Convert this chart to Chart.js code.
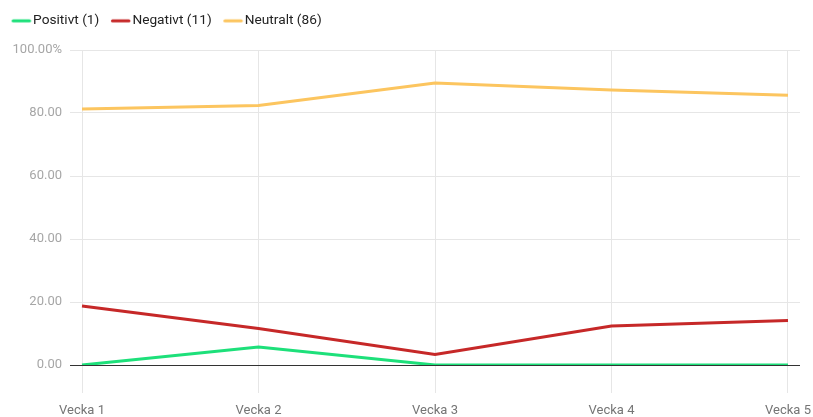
<!DOCTYPE html>
<html><head><meta charset="utf-8">
<script src="https://cdn.jsdelivr.net/npm/chart.js@4/dist/chart.umd.min.js"></script>
<style>html,body{margin:0;padding:0;background:#fff}#wrap{width:813px;height:417px}</style>
</head><body><div id="wrap"><canvas id="c"></canvas></div>
<script>
const categories = ["Vecka 1", "Vecka 2", "Vecka 3", "Vecka 4", "Vecka 5"];
const seriesNames = ["Positivt (1)", "Negativt (11)", "Neutralt (86)"];
const positivt = [0, 5.7, 0, 0, 0];
const negativt = [18.7, 11.6, 3.3, 12.4, 14.1];
const neutralt = [81.3, 82.4, 89.5, 87.3, 85.6];
const yTicks = [0, 20, 40, 60, 80, 100];
const colors = ["#1de07a", "#c62828", "#fcc55f"];

const toPts = arr => arr.map((v, i) => ({x: i, y: v}));
const seriesData = [positivt, negativt, neutralt];

// legend marker: a short horizontal line, offset inside a wider canvas
function legendLine(color) {
  const cv = document.createElement('canvas');
  cv.width = 40; cv.height = 6;
  const g = cv.getContext('2d');
  g.strokeStyle = color;
  g.lineWidth = 3;
  g.lineCap = 'round';
  g.beginPath();
  g.moveTo(13.5, 3);
  g.lineTo(30, 3);
  g.stroke();
  return cv;
}

const zeroLine = {
  id: 'zeroLine',
  afterDatasetsDraw(chart) {
    const {ctx, chartArea, scales} = chart;
    const y = Math.round(scales.y.getPixelForValue(0)) + 0.5;
    ctx.save();
    ctx.strokeStyle = '#333';
    ctx.lineWidth = 1;
    ctx.beginPath();
    ctx.moveTo(chartArea.left, y);
    ctx.lineTo(chartArea.right, y);
    ctx.stroke();
    ctx.restore();
  }
};

new Chart(document.getElementById('c'), {
  type: 'line',
  data: {
    datasets: seriesNames.map((n, i) => ({
      label: n,
      data: toPts(seriesData[i]),
      borderColor: colors[i],
      backgroundColor: colors[i],
      borderWidth: 3,
      pointRadius: 0,
      pointStyle: legendLine(colors[i]),
      tension: 0,
      fill: false
    }))
  },
  options: {
    responsive: true,
    maintainAspectRatio: false,
    animation: false,
    layout: {padding: {left: 0, right: 13, top: 1, bottom: 0}},
    plugins: {
      legend: {
        position: 'top',
        align: 'start',
        labels: {
          usePointStyle: true,
          pointStyleWidth: 13.25,
          boxHeight: 13.5,
          padding: 13,
          color: '#222',
          font: {family: 'Roboto', size: 13.7}
        }
      },
      title: {
        display: true,
        text: ' ',
        weight: 500,
        font: {size: 10, lineHeight: 1},
        padding: {top: 0, bottom: 2.3}
      },
      tooltip: {enabled: false}
    },
    scales: {
      x: {
        type: 'linear',
        min: -0.068,
        max: 4.068,
        afterBuildTicks: s => { s.ticks = categories.map((c, i) => ({value: i})); },
        afterFit: s => { s.height = 52; s.paddingLeft = 0; s.paddingRight = 0; },
        ticks: {
          callback: v => categories[v],
          color: '#757575',
          font: {family: 'Roboto', size: 13},
          padding: 10,
          maxRotation: 0,
          autoSkip: false
        },
        grid: {color: '#e6e6e6', tickLength: 28, tickColor: '#e6e6e6'},
        border: {display: false}
      },
      y: {
        min: 0,
        max: 100,
        afterBuildTicks: s => { s.ticks = yTicks.map(v => ({value: v})); },
        afterFit: s => { s.width = 70; },
        ticks: {
          callback: v => v === 100 ? v.toFixed(2) + '%' : v.toFixed(2),
          color: '#a6a6a6',
          font: {family: 'Roboto', size: 13},
          padding: 8
        },
        grid: {color: '#e6e6e6', drawTicks: false},
        border: {display: false}
      }
    }
  },
  plugins: [zeroLine]
});
</script></body></html>
